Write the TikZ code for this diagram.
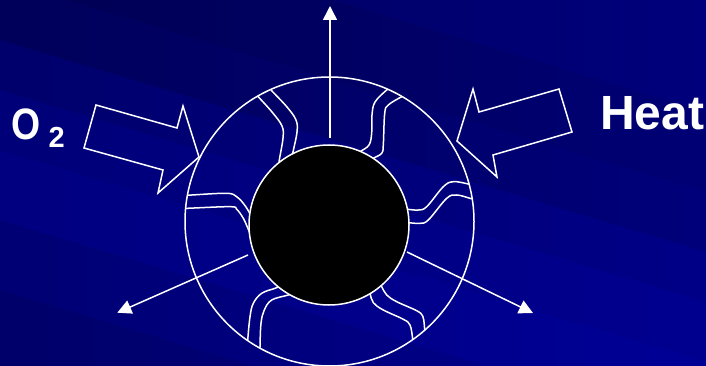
\documentclass[tikz,border=0pt]{standalone}
\usepackage{fontspec}
\setmainfont{Liberation Sans}
\usetikzlibrary{arrows.meta,fadings}
\definecolor{bgA}{RGB}{0,0,92}
\definecolor{bgB}{RGB}{0,0,82}
\definecolor{bgC}{RGB}{0,0,90}
\definecolor{bgD}{RGB}{0,0,108}
\definecolor{bgE}{RGB}{0,0,120}
\definecolor{bgF}{RGB}{0,0,128}
\definecolor{bgG}{RGB}{0,0,116}
\definecolor{bgH}{RGB}{0,0,106}
\definecolor{glow}{RGB}{0,0,200}
\tikzset{
  wl/.style={draw=white, line width=1.5pt},
  wave/.style={wl, smooth, tension=0.6},
  blockarrow/.style={wl, line join=miter},
  emit/.style={wl, -{Triangle[width=14pt,length=14pt]}},
  lbl/.style={text=white, inner sep=0pt, anchor=base west, font=\bfseries},
}
\newcommand{\band}[2]{\fill[#1] (0,#2) -- (706,#2+212) -- (706,#2+700) -- (0,#2+700) -- cycle;}
\begin{document}
\begin{tikzpicture}[x=1pt,y=-1pt]
\useasboundingbox (0,0) rectangle (706,366);
\begin{scope}
\clip (0,0) rectangle (706,366);
\band{bgA}{-400}
\band{bgB}{-100}
\band{bgC}{-20}
\band{bgD}{40}
\band{bgE}{90}
\band{bgF}{150}
\band{bgG}{220}
\band{bgH}{290}
\fill[glow, fill opacity=0.3, path fading=west] (0,0) rectangle (706,366);
\end{scope}

% outer ring
\node[circle, draw=white, line width=1.5pt, minimum size=289pt, inner sep=0pt] (outer) at (329.5,221.5) {};

% wavy pore lines clipped to the ring
\begin{scope}
\clip (329.5,221.5) circle[radius=144.5pt];
\draw[wave] plot coordinates {(252,89) (256.7,95) (272,112) (282,126) (283,138) (279.3,160) (278,170)};
\draw[wave] plot coordinates {(267,85) (271.7,90.7) (287,107) (296,120) (297,132) (293,152) (291,162)};
\draw[wave] plot coordinates {(352,157) (360,151.7) (369,145) (371.7,133) (372,115) (375,102) (386.7,90) (392,87)};
\draw[wave] plot coordinates {(366,163) (373.3,158.3) (381.7,153.3) (383.3,145) (384.7,113.3) (388.3,105) (401.7,96.7) (408,94)};
\draw[wave] plot coordinates {(183,195.5) (191.7,195) (226.7,193.3) (236.7,196.7) (243.3,203.3) (248.3,210.7) (252,218)};
\draw[wave] plot coordinates {(180,208.5) (187.3,208.3) (230,206.7) (236.7,209.3) (243.3,218.3) (248.3,229.3) (251,236)};
\draw[wave] plot coordinates {(400,209) (407.3,209.3) (418.3,210) (426.7,206.7) (443.3,186.7) (453.3,181.7) (468.3,184) (478,187)};
\draw[wave] plot coordinates {(400,222.5) (408.3,222.7) (420,223.3) (428.3,220) (446.7,198.3) (456.7,195) (470,198.3) (480,201)};
\draw[wave] plot coordinates {(283,285) (275,288.3) (261.7,293.3) (253.3,303.3) (250,316.7) (247.7,340) (247,350)};
\draw[wave] plot coordinates {(296,292) (288.3,295) (271.7,300) (264.3,310) (261,323.3) (260,346.7) (260,356)};
\draw[wave] plot coordinates {(367,285) (370,293.3) (373.3,302.7) (383.3,310) (403.3,319.3) (410,325) (412.7,339.3) (413,348)};
\draw[wave] plot coordinates {(377,279) (381.7,286.7) (386.7,295) (396.7,301.7) (416.7,310.7) (422.7,316) (424.3,325) (425,336)};
\end{scope}

% core
\node[circle, fill=black, draw=white, line width=1.5pt, minimum size=160pt, inner sep=0pt] (core) at (329,225) {};

% emission arrows
\coordinate (upS) at (330,138);
\coordinate (upE) at (330,6);
\coordinate (llS) at (248,255);
\coordinate (llE) at (117.3,312.7);
\coordinate (lrS) at (407,252);
\coordinate (lrE) at (533,313);
\draw[emit] (upS) -- (upE);
\draw[emit] (llS) -- (llE);
\draw[emit] (lrS) -- (lrE);

% block arrows
\draw[blockarrow] (96,105) -- (177,128) -- (183,106) -- (199,157) -- (158,193) -- (163,170) -- (84,148) -- cycle;
\draw[blockarrow] (559,89) -- (572,132) -- (493,155) -- (497,177) -- (457,141) -- (473,89) -- (479,112) -- cycle;

% labels
\node[lbl, font=\fontsize{44}{44}\selectfont\bfseries] (oxy) at (11,140) {\scalebox{0.85}[1]{O}};
\node[lbl, font=\fontsize{29}{29}\selectfont\bfseries] (oxysub) at (48.5,148) {2};
\node[lbl, font=\fontsize{48}{48}\selectfont\bfseries] (heat) at (600,129.3) {Heat};
\end{tikzpicture}
\end{document}
